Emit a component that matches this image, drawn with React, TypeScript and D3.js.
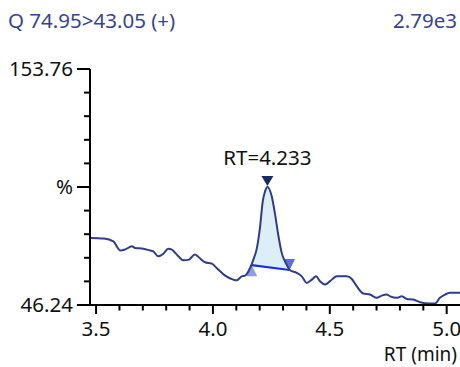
import React from 'react'
import * as d3 from 'd3'

// Chromatogram trace (retention time in min, relative intensity in %)
const rt = [
  3.474, 3.534, 3.574, 3.603, 3.624, 3.653, 3.667, 3.702, 3.731, 3.745,
  3.766, 3.788, 3.809, 3.824, 3.852, 3.873, 3.895, 3.923, 3.938, 3.966,
  3.995, 4.016, 4.052, 4.087, 4.102, 4.123, 4.137, 4.159, 4.173, 4.187,
  4.201, 4.213, 4.223, 4.233, 4.251, 4.266, 4.28, 4.294, 4.313, 4.33,
  4.358, 4.38, 4.401, 4.423, 4.441, 4.458, 4.48, 4.501, 4.53, 4.572,
  4.594, 4.615, 4.643, 4.672, 4.701, 4.722, 4.743, 4.758, 4.786, 4.808,
  4.829, 4.857, 4.886, 4.929, 4.95, 4.971, 4.993, 5.014, 5.057
]
const intensity = [
  76.8, 76.5, 75.2, 71.1, 71.5, 73.0, 72.2, 71.9, 71.1, 70.7,
  68.4, 69.6, 71.9, 71.5, 68.4, 66.6, 66.8, 69.2, 68.1, 65.7,
  65.1, 63.1, 59.6, 57.8, 57.5, 59.3, 59.6, 63.1, 66.9, 71.7,
  81.3, 93.4, 98.0, 100.0, 96.0, 87.4, 77.8, 70.1, 65.1, 62.1,
  60.9, 59.3, 56.3, 57.8, 59.3, 57.1, 55.6, 57.1, 59.3, 59.3,
  58.1, 54.8, 51.5, 51.0, 49.5, 50.5, 51.0, 50.2, 49.5, 50.2,
  49.0, 48.7, 47.5, 46.9, 46.9, 49.5, 51.0, 51.8, 51.8
]

// Integrated peak
const peakApex = 4.233
const peakStart = 4.166
const peakEnd = 4.328
const baselineStart = 64.4
const baselineEnd = 62.2

const title = 'Q 74.95>43.05 (+)'
const maxCount = '2.79e3'
const yMin = 46.24
const yMax = 153.76
const yTickLabels = ['46.24', '%', '153.76']
const xMajorTicks = [3.5, 4.0, 4.5, 5.0]
const xMinorTicks = [3.6, 3.7, 3.8, 3.9, 4.1, 4.2, 4.3, 4.4, 4.6, 4.7, 4.8, 4.9]
const xAxisLabel = 'RT (min)'

const W = 460
const H = 367
const font = '"Noto Sans", "Open Sans", sans-serif'
const fs = 20.5
const blue = '#37448f'

export default function App() {
  const x = d3.scaleLinear().domain([3.474, 5.057]).range([90, 460])
  const y = d3.scaleLinear().domain([yMin, yMax]).range([305, 69])

  const trace = rt.map((t, i) => ({ t, v: intensity[i] }))
  const base = d3.scaleLinear().domain([peakStart, peakEnd]).range([baselineStart, baselineEnd])

  const line = d3
    .line<{ t: number; v: number }>()
    .x(d => x(d.t))
    .y(d => y(d.v))
    .curve(d3.curveMonotoneX)

  const peakPts = [
    { t: peakStart, v: baselineStart },
    ...trace.filter(d => d.t > peakStart && d.t < peakEnd),
    { t: peakEnd, v: baselineEnd }
  ]
  const area = d3
    .area<{ t: number; v: number }>()
    .x(d => x(d.t))
    .y0(d => y(base(d.t)))
    .y1(d => y(d.v))
    .curve(d3.curveMonotoneX)

  // y ticks: 10 equal steps, labels only at ends and middle
  const yTicks = d3.range(11).map(i => yMin + ((yMax - yMin) * i) / 10)

  const ax = x(peakApex)
  const ay = y(100)
  const sx = x(peakStart)
  const sy = y(baselineStart)
  const ex = x(peakEnd)
  const ey = y(baselineEnd)

  return (
    <svg
      width={W}
      height={H}
      style={{ position: 'absolute', left: 0, top: 0, background: '#fff' }}
      fontFamily={font}
    >
      <text x={8} y={28} fontSize={fs} fill={blue}>
        {title}
      </text>
      <text x={457} y={28} fontSize={fs} fill={blue} textAnchor="end">
        {maxCount}
      </text>

      {/* peak area */}
      <path d={area(peakPts) || ''} fill="#deeef6" />
      <polygon
        points={`${sx},${sy} ${sx - 5.5},${sy + 11} ${sx + 5.5},${sy + 11}`}
        fill="#8c9cf2"
      />
      <polygon
        points={`${ex - 5.5},${ey - 11} ${ex + 5.5},${ey - 11} ${ex},${ey}`}
        fill="#5f6fdc"
      />
      <line x1={sx} y1={sy} x2={ex} y2={ey} stroke="#1530e8" strokeWidth={2.2} />

      <path d={line(trace) || ''} fill="none" stroke="#2e3d8c" strokeWidth={2} />

      <polygon
        points={`${ax - 6},${ay - 11} ${ax + 6},${ay - 11} ${ax},${ay - 1}`}
        fill="#1a2a62"
      />
      <text x={ax} y={165} fontSize={fs} textAnchor="middle" fill="#111">
        RT={peakApex.toFixed(3)}
      </text>

      {/* y axis */}
      <line x1={90} y1={y(yMax)} x2={90} y2={y(yMin) + 1} stroke="#000" strokeWidth={2} />
      {yTicks.map((v, i) => {
        const major = i % 5 === 0
        return (
          <line
            key={i}
            x1={major ? 77 : 84}
            x2={90}
            y1={y(v)}
            y2={y(v)}
            stroke="#000"
            strokeWidth={2}
          />
        )
      })}
      {[yMin, (yMin + yMax) / 2, yMax].map((v, i) => (
        <text key={i} x={73} y={y(v) + 7} fontSize={fs} textAnchor="end" fill="#111">
          {yTickLabels[i]}
        </text>
      ))}

      {/* x axis */}
      <line x1={89} y1={305} x2={460} y2={305} stroke="#000" strokeWidth={2} />
      {xMajorTicks.map(t => (
        <g key={t}>
          <line x1={x(t)} x2={x(t)} y1={305} y2={314} stroke="#000" strokeWidth={2} />
          <text x={x(t)} y={336} fontSize={fs} textAnchor="middle" fill="#111">
            {t.toFixed(1)}
          </text>
        </g>
      ))}
      {xMinorTicks.map(t => (
        <line key={t} x1={x(t)} x2={x(t)} y1={305} y2={310.5} stroke="#000" strokeWidth={2} />
      ))}
      <text x={457} y={360.5} fontSize={19} textAnchor="end" fill="#111">
        {xAxisLabel}
      </text>
    </svg>
  )
}
